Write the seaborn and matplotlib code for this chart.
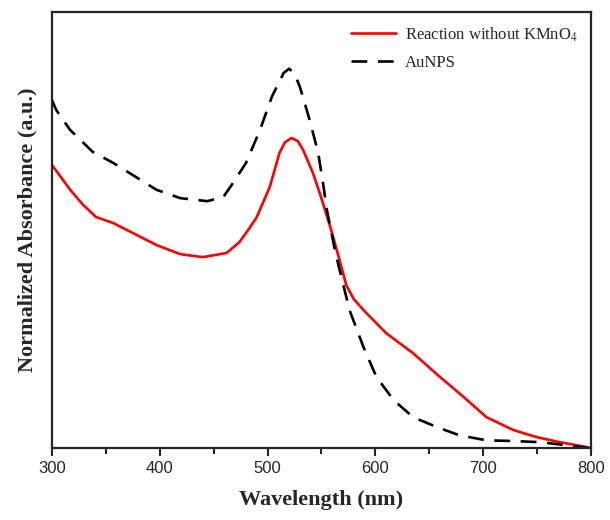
import pandas as pd
import matplotlib
matplotlib.use("Agg")
import matplotlib.pyplot as plt
import seaborn as sns
from matplotlib.ticker import MultipleLocator

# Data (normalized absorbance)
wl_reaction = [300, 317, 329, 341, 357, 375, 397, 419, 440, 462, 474, 484, 490, 502,
               511, 516, 522, 528, 533, 542, 549, 559, 566, 573, 580, 589, 610, 635,
               660, 682, 703, 728, 750, 771, 796, 800]
abs_reaction = [0.749, 0.683, 0.643, 0.611, 0.595, 0.569, 0.537, 0.513, 0.505, 0.516,
                0.545, 0.585, 0.611, 0.690, 0.780, 0.808, 0.820, 0.812, 0.788, 0.728,
                0.669, 0.577, 0.505, 0.431, 0.394, 0.365, 0.304, 0.251, 0.188, 0.135,
                0.082, 0.048, 0.029, 0.016, 0.003, 0.0]

wl_aunps = [300, 304, 317, 338, 357, 375, 397, 419, 444, 459, 468, 480, 493, 504, 515,
            520, 525, 530, 539, 547, 552, 555, 563, 576, 589, 601, 617, 635, 657, 678,
            703, 728, 753, 777, 800]
abs_aunps = [0.921, 0.894, 0.841, 0.783, 0.754, 0.722, 0.683, 0.661, 0.653, 0.664,
             0.701, 0.754, 0.841, 0.929, 0.992, 1.003, 0.990, 0.955, 0.868, 0.780,
             0.690, 0.630, 0.516, 0.365, 0.267, 0.188, 0.127, 0.082, 0.056, 0.034,
             0.021, 0.019, 0.016, 0.008, 0.0]

df_r = pd.DataFrame({"wl": wl_reaction, "abs": abs_reaction})
df_a = pd.DataFrame({"wl": wl_aunps, "abs": abs_aunps})

sns.set_style("ticks")
plt.rcParams['font.family'] = ['Liberation Serif', 'DejaVu Serif']
plt.rcParams['mathtext.fontset'] = 'stix'

fig = plt.figure(figsize=(6.1, 5.2), dpi=100)
ax = fig.add_axes([0.085, 0.138, 0.884, 0.839])

sns.lineplot(data=df_r, x="wl", y="abs", ax=ax, color="#ff0000", linewidth=1.9,
             label="Reaction without KMnO$_4$", sort=False)
sns.lineplot(data=df_a, x="wl", y="abs", ax=ax, color="black", linewidth=1.9,
             linestyle=(0, (6, 4)), label="AuNPS", sort=False)

ax.set_xlim(300, 800)
ax.set_ylim(0, 1.153)
ax.set_yticks([])
ax.xaxis.set_major_locator(MultipleLocator(100))
ax.xaxis.set_minor_locator(MultipleLocator(50))
ax.tick_params(axis='x', which='major', direction='out', length=6, width=1.5)
ax.tick_params(axis='x', which='minor', direction='out', length=4, width=1.5)
for lbl in ax.get_xticklabels():
    lbl.set_fontfamily('Liberation Sans')
    lbl.set_fontsize(12)

for s in ax.spines.values():
    s.set_linewidth(1.6)
    s.set_visible(True)

ax.set_xlabel("Wavelength (nm)", fontsize=16, fontweight='bold', labelpad=10)
ax.set_ylabel("Normalized Absorbance (a.u.)", fontsize=16, fontweight='bold', labelpad=10)

ax.legend(loc='upper right', frameon=False, fontsize=12, handlelength=2.7,
          handletextpad=0.5, borderaxespad=0.4, labelspacing=0.65)

fig.savefig("out.png", dpi=100)
